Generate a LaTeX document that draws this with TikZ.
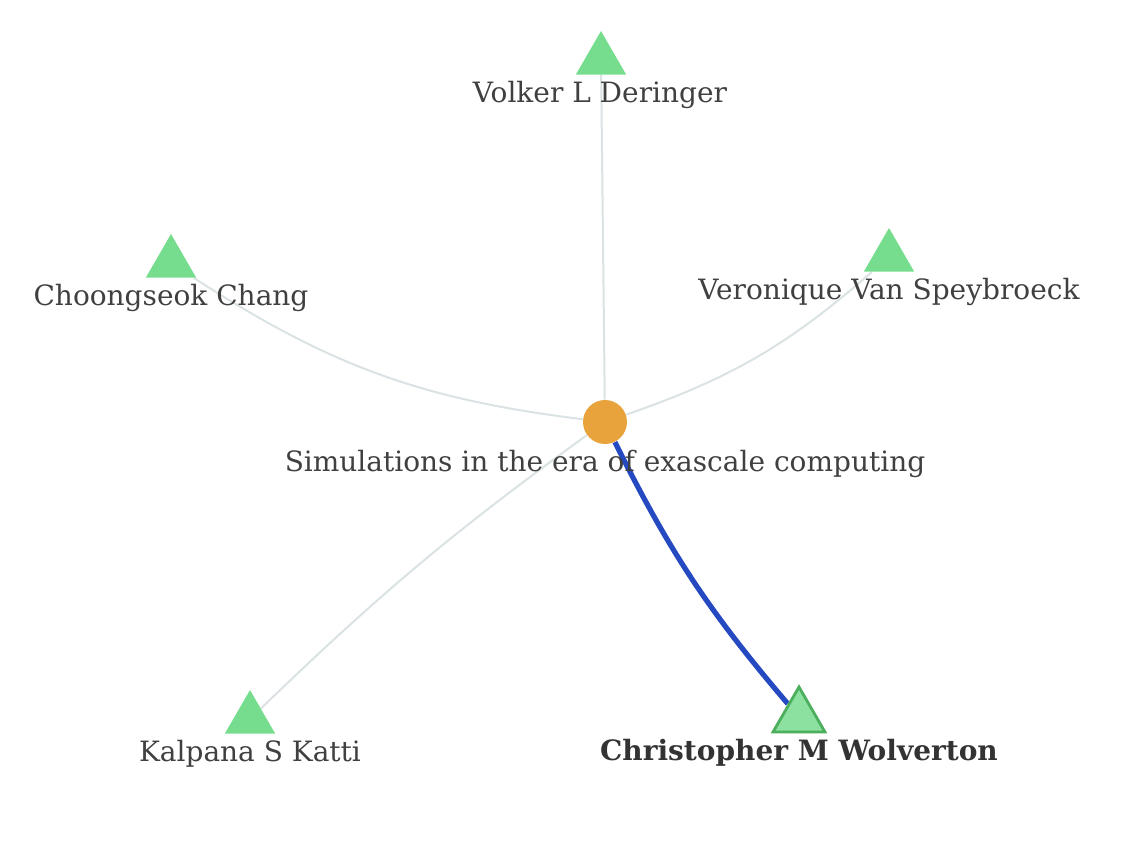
\documentclass[tikz,border=0pt]{standalone}
\usepackage{fontspec}
\setmainfont{DejaVu Serif}
\usetikzlibrary{shapes.geometric,backgrounds,positioning}
\definecolor{authgreen}{HTML}{77DD8E}
\definecolor{authlight}{HTML}{8CE0A0}
\definecolor{authdark}{HTML}{4CAF5E}
\definecolor{paperorange}{HTML}{E8A33C}
\definecolor{edgegray}{HTML}{DAE2E4}
\definecolor{hiblue}{HTML}{2449C0}
\definecolor{txt}{HTML}{404040}
\tikzstyle{au} = [regular polygon, regular polygon sides=3, fill=authgreen, draw=none, inner sep=0pt, minimum size=29pt]
\tikzstyle{aub} = [regular polygon, regular polygon sides=3, fill=authlight, draw=authdark, line width=1.4pt, inner sep=0pt, minimum size=30pt]
\tikzstyle{pp} = [circle, fill=paperorange, draw=none, inner sep=0pt, minimum size=22pt]
\tikzstyle{lb} = [anchor=base, text=txt, inner sep=0pt, font=\fontsize{14}{16}\selectfont]
\tikzstyle{ed} = [edgegray, line width=1pt]
\tikzstyle{hi} = [hiblue, line width=2.6pt]

\begin{document}
\begin{tikzpicture}[x=0.5pt, y=-0.5pt]
		\useasboundingbox (0,0) rectangle (1142,846);

		\node[pp] (paper) at (605,422) {};
		\node[au] (volker) at (601,60) {};
		\node[au] (chang) at (171,263) {};
		\node[au] (speybroeck) at (889,257) {};
		\node[au] (katti) at (250,719) {};
		\node[aub] (wolverton) at (799,717) {};

		\begin{scope}[on background layer]
			\draw[ed] (paper) -- (volker);
			\draw[ed] (paper) to[bend left=13] (chang);
			\draw[ed] (paper) to[bend right=11] (speybroeck);
			\draw[ed] (paper) to[bend right=4] (katti);
			\draw[hi] (paper) to[bend right=7] (wolverton);
		\end{scope}

		\node[lb] (volker-l) at (600,102) {Volker L Deringer};
		\node[lb] (chang-l) at (171,305) {Choongseok Chang};
		\node[lb] (speybroeck-l) at (889,299) {Veronique Van Speybroeck};
		\node[lb] (katti-l) at (250,761) {Kalpana S Katti};
		\node[lb, font=\fontsize{14}{16}\selectfont\bfseries, text=black!80] (wolverton-l) at (799,760) {Christopher M Wolverton};
		\node[lb] (paper-l) at (605,471) {Simulations in the era of exascale computing};
	\end{tikzpicture}
\end{document}
